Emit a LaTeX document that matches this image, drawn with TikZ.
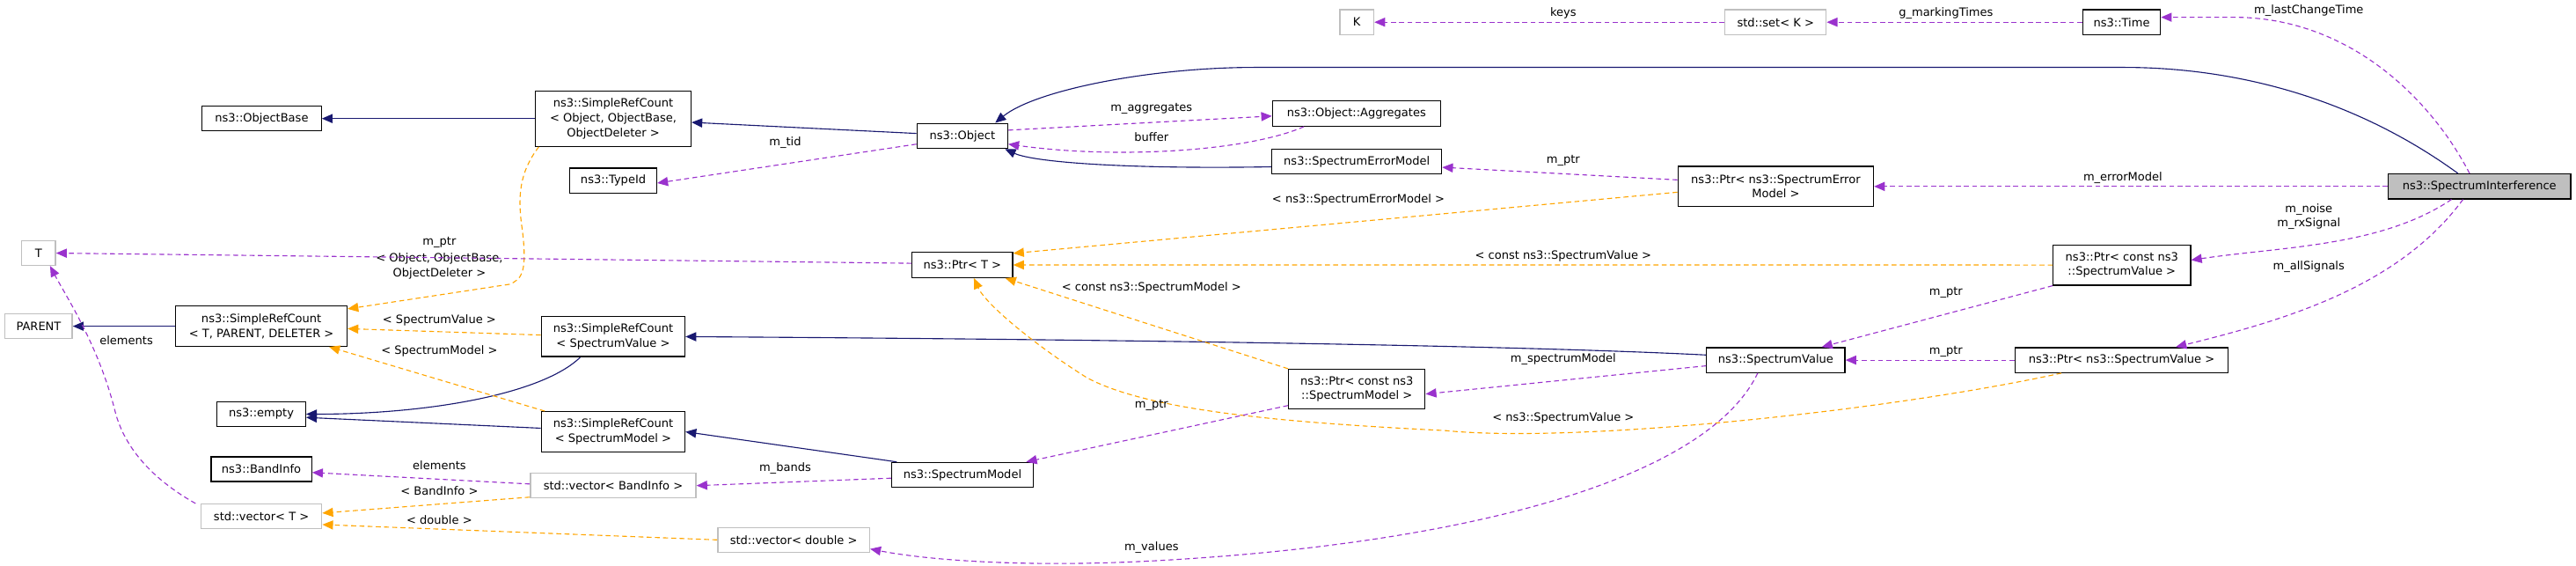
\documentclass[tikz,border=0pt]{standalone}
\usepackage{fontspec}
\setmainfont{DejaVu Sans}
\usetikzlibrary{arrows.meta}
\definecolor{inh}{RGB}{25,25,112}
\definecolor{use}{RGB}{154,50,205}
\definecolor{tpl}{RGB}{255,165,0}
\definecolor{gb}{RGB}{191,191,191}
\begin{document}
\begin{tikzpicture}[x=1bp,y=-1bp,
  font=\fontsize{7}{9}\selectfont,
  bx/.style={draw=black,line width=0.7bp,inner sep=0pt,align=center},
  gx/.style={bx,draw=gb},
  lab/.style={inner sep=0pt,align=center},
  inh/.style={line width=0.6bp,draw=inh,-{Triangle[length=6.5bp,width=5.5bp,fill=inh]}},
  use/.style={line width=0.6bp,draw=use,dash pattern=on 3bp off 2bp,-{Triangle[length=6.5bp,width=5.5bp,fill=use]}},
  tpl/.style={line width=0.6bp,draw=tpl,dash pattern=on 3bp off 2bp,-{Triangle[length=6.5bp,width=5.5bp,fill=tpl]}}]
\useasboundingbox (0,0) rectangle (1568.3,344.4);
\newcommand\bnode[7]{\node[#1,minimum width={(#5-#3)*1bp},minimum height={(#6-#4)*1bp}] (#2) at ({(#3+#5)/2},{(#4+#6)/2}) {#7};}
\bnode{bx}{obase}{123}{64.7}{195.6}{79.6}{ns3::ObjectBase}
\bnode{bx}{srco}{326}{55.3}{420.7}{89}{ns3::SimpleRefCount\\< Object, ObjectBase,\\ObjectDeleter >}
\bnode{bx}{typeid}{346.9}{102.3}{399.8}{117.5}{ns3::TypeId}
\bnode{gx}{T}{13.2}{146.5}{33.8}{161.5}{T}
\bnode{gx}{parent}{3.1}{191}{44}{206}{PARENT}
\bnode{bx}{srctpd}{107}{186.3}{211.3}{210.7}{ns3::SimpleRefCount\\< T, PARENT, DELETER >}
\bnode{bx}{srcsv}{329.6}{192.7}{417}{217}{ns3::SimpleRefCount\\< SpectrumValue >}
\bnode{bx}{empty}{132.2}{244.5}{186}{259.5}{ns3::empty}
\bnode{bx}{srcsm}{329.6}{250.5}{417}{275}{ns3::SimpleRefCount\\< SpectrumModel >}
\bnode{bx}{bandinfo}{128.5}{278}{189.7}{293}{ns3::BandInfo}
\bnode{gx}{vecbi}{322.9}{288}{423.7}{303}{std::vector< BandInfo >}
\bnode{gx}{vect}{122.4}{306.7}{195.9}{321.7}{std::vector< T >}
\bnode{gx}{K}{815.7}{5.9}{836.4}{21.1}{K}
\bnode{gx}{setk}{1050.2}{5.9}{1111.8}{21.1}{std::set< K >}
\bnode{bx}{obj}{558.3}{75.1}{613.5}{90.3}{ns3::Object}
\bnode{bx}{agg}{774.7}{61.5}{877}{76.7}{ns3::Object::Aggregates}
\bnode{bx}{sem}{774.4}{90.7}{877.7}{105.9}{ns3::SpectrumErrorModel}
\bnode{bx}{psem}{1021.6}{101.3}{1140.6}{125.6}{ns3::Ptr< ns3::SpectrumError\\Model >}
\bnode{bx}{ptrt}{555.3}{153.5}{616.5}{168.9}{ns3::Ptr< T >}
\bnode{bx}{pcsm}{784.5}{224.7}{867.6}{248.8}{ns3::Ptr< const ns3\\::SpectrumModel >}
\bnode{bx}{sm}{542.9}{281.4}{629}{296.5}{ns3::SpectrumModel}
\bnode{gx}{vecd}{437}{321}{529.4}{336}{std::vector< double >}
\bnode{bx}{sv}{1039}{211.5}{1123.2}{226.7}{ns3::SpectrumValue}
\bnode{bx}{time}{1268}{5.9}{1315.3}{21.1}{ns3::Time}
\bnode{bx,fill=gb}{si}{1454}{105.9}{1565}{121}{ns3::SpectrumInterference}
\bnode{bx}{pcsv}{1250}{149}{1333.6}{173.5}{ns3::Ptr< const ns3\\::SpectrumValue >}
\bnode{bx}{psv}{1226.8}{211.5}{1356.5}{226.7}{ns3::Ptr< ns3::SpectrumValue >}
% inheritance
\draw[inh] (srco.west) -- (obase.east);
\draw[inh] ([yshift=1.5bp]obj.west) -- ([yshift=-2.3bp]srco.east);
\draw[inh] ([yshift=-3.2bp]sem.west) .. controls (690,103) and (630,99) .. ([xshift=-2bp]obj.south east);
\draw[inh] ([xshift=-13bp]si.north) .. controls (1420,50) and (1340,41) .. (1293,41) -- (764,41) .. controls (700,41) and (630,55) .. ([xshift=20bp]obj.north);
\draw[inh] ([yshift=3.1bp]sv.west) .. controls (900,209) and (600,206) .. (srcsv.east);
\draw[inh] ([xshift=-20bp]srcsv.south) .. controls (330,240) and (260,252) .. (empty.east);
\draw[inh] ([yshift=2.2bp]srcsm.west) -- ([yshift=-2bp]empty.east);
\draw[inh] ([xshift=-40bp]sm.north) -- (srcsm.east);
\draw[inh] (srctpd.west) -- (parent.east);
% templates
\draw[tpl] ([xshift=2.4bp]srco.south west) .. controls (316,105) and (315,120) .. (318,140) .. controls (321,165) and (318,170) .. (310,173) -- ([yshift=-2bp]srctpd.north east);
\node[lab] (l1) at (267.5,161.9) {< Object, ObjectBase,\\ObjectDeleter >};
\draw[tpl] ([yshift=1bp]srcsv.west) -- ([yshift=-1.5bp]srctpd.east);
\node[lab] (l2) at (267.5,194.7) {< SpectrumValue >};
\draw[tpl] ([xshift=2.4bp]srcsm.north west) -- ([xshift=-11.3bp]srctpd.south east);
\node[lab] (l3) at (267.5,213.5) {< SpectrumModel >};
\draw[tpl] ([yshift=-3.5bp]psem.west) -- ([yshift=-1bp]ptrt.north east);
\node[lab] (l4) at (827,121.5) {< ns3::SpectrumErrorModel >};
\draw[tpl] (pcsv.west) -- (ptrt.east);
\node[lab] (l5) at (951.7,156) {< const ns3::SpectrumValue >};
\draw[tpl] (pcsm.north west) -- ([xshift=-4.8bp]ptrt.south east);
\node[lab] (l6) at (701,175) {< const ns3::SpectrumModel >};
\draw[tpl] ([xshift=-36.7bp]psv.south) .. controls (1150,250) and (960,270) .. (880,262) .. controls (780,257) and (700,250) .. (662,230) .. controls (630,210) and (600,185) .. ([xshift=7bp]ptrt.south);
\node[lab] (l7) at (951.7,254.3) {< ns3::SpectrumValue >};
\draw[tpl] ([yshift=-7bp]vecbi.west) -- ([yshift=2bp]vect.east);
\node[lab] (l8) at (267.5,298.6) {< BandInfo >};
\draw[tpl] (vecd.west) -- ([yshift=-5bp]vect.east);
\node[lab] (l9) at (267.5,316.5) {< double >};
% usage
\draw[use] ([yshift=-5bp]obj.west) -- ([yshift=-1.5bp]typeid.east);
\node[lab] (u1) at (478,87) {m\_tid};
\draw[use] ([yshift=3.5bp]obj.east) -- ([yshift=-1.5bp]agg.west);
\node[lab] (u2) at (701,65.9) {m\_aggregates};
\draw[use] ([xshift=-32bp]agg.south) .. controls (760,92) and (680,97) .. ([yshift=-5bp]obj.east);
\node[lab] (u3) at (701,83.5) {buffer};
\draw[use] ([yshift=4bp]psem.west) -- ([yshift=-3.5bp]sem.east);
\node[lab] (u4) at (951.7,97.7) {m\_ptr};
\draw[use] (si.west) -- (psem.east);
\node[lab] (u5) at (1292.4,108.3) {m\_errorModel};
\draw[use] ([xshift=-6bp]si.north) .. controls (1480,60) and (1430,10.5) .. (1360,10.5) -- ([yshift=3bp]time.east);
\node[lab] (u6) at (1405.6,6.6) {m\_lastChangeTime};
\draw[use] (time.west) -- (setk.east);
\node[lab] (u7) at (1184.7,8.1) {g\_markingTimes};
\draw[use] (setk.west) -- (K.east);
\node[lab] (u8) at (951.7,8.1) {keys};
\draw[use] ([xshift=-17bp]si.south) .. controls (1450,150) and (1390,150) .. ([yshift=3bp]pcsv.east);
\node[lab] (u9) at (1405.6,131.8) {m\_noise\\m\_rxSignal};
\draw[use] ([xshift=-10bp]si.south) .. controls (1460,175) and (1390,195) .. ([xshift=33bp]psv.north);
\node[lab] (u10) at (1405.6,162.5) {m\_allSignals};
\draw[use] (pcsv.south west) -- ([xshift=28bp]sv.north);
\node[lab] (u11) at (1184.7,177.9) {m\_ptr};
\draw[use] (psv.west) -- (sv.east);
\node[lab] (u12) at (1184.7,213.7) {m\_ptr};
\draw[use] ([yshift=-3.5bp]sv.west) -- ([yshift=-3bp]pcsm.east);
\node[lab] (u13) at (951.7,218.5) {m\_spectrumModel};
\draw[use] ([yshift=-10bp]pcsm.west) -- ([xshift=38.8bp]sm.north);
\node[lab] (u14) at (701,246.4) {m\_ptr};
\draw[use] ([xshift=-11bp]sv.south) .. controls (1040,290) and (900,330) .. (707,341) .. controls (620,346) and (560,340) .. ([yshift=-5.5bp]vecd.east);
\node[lab] (u15) at (701,333.4) {m\_values};
\draw[use] ([yshift=-2bp]sm.west) -- (vecbi.east);
\node[lab] (u16) at (478,285) {m\_bands};
\draw[use] ([yshift=1bp]vecbi.west) -- ([yshift=-2bp]bandinfo.east);
\node[lab] (u17) at (267.5,283) {elements};
\draw[use] ([xshift=-3bp]vect.north west) .. controls (90,290) and (75,270) .. (70,250) .. controls (60,210) and (40,180) .. ([xshift=7bp]T.south);
\node[lab] (u18) at (76.9,207) {elements};
\draw[use] ([yshift=1bp]ptrt.west) -- (T.east);
\node[lab] (u19) at (267.5,147.8) {m\_ptr};
\end{tikzpicture}
\end{document}
